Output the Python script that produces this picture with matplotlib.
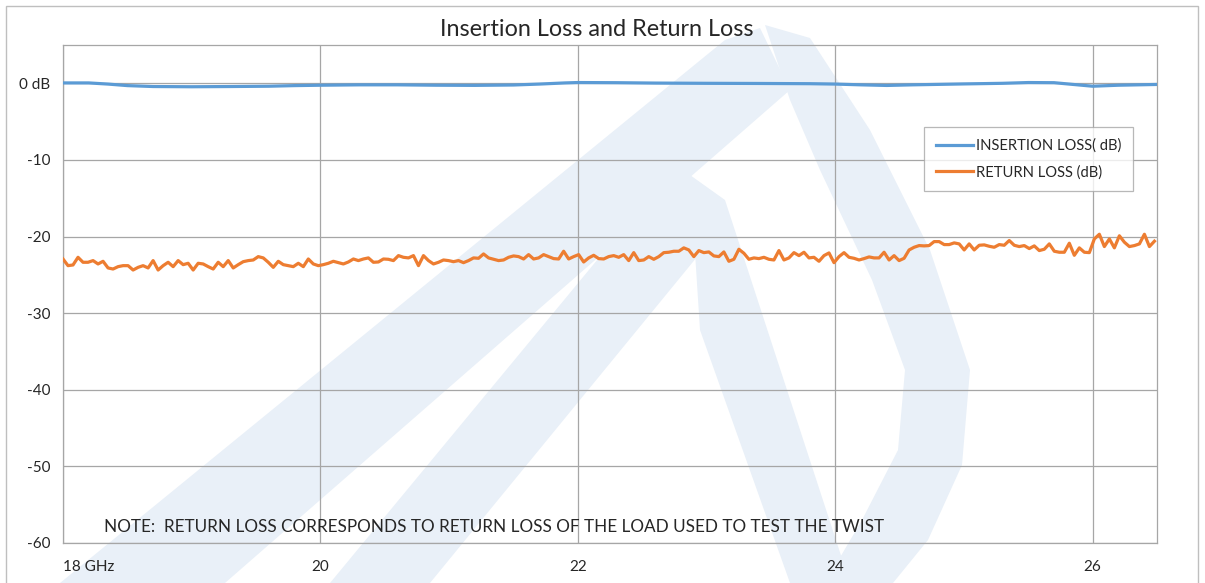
import numpy as np
import matplotlib
matplotlib.use("Agg")
import matplotlib.pyplot as plt
from matplotlib.patches import Polygon, Rectangle

plt.rcParams["font.family"] = ["Lato", "DejaVu Sans"]

# insertion loss (GHz, dB)
il_freq = [18.0, 18.2, 18.35, 18.5, 18.7, 19.0, 19.3, 19.6, 19.8, 20.0, 20.3, 20.6,
           20.9, 21.2, 21.5, 21.7, 21.9, 22.0, 22.3, 22.6, 23.0, 23.4, 23.8, 24.0,
           24.2, 24.4, 24.6, 25.0, 25.3, 25.5, 25.7, 25.85, 26.0, 26.2, 26.35, 26.5]
il_db = [0.05, 0.05, -0.1, -0.3, -0.42, -0.45, -0.42, -0.38, -0.3, -0.25, -0.2, -0.2,
         -0.25, -0.27, -0.22, -0.1, 0.05, 0.1, 0.08, 0.03, 0.0, -0.02, -0.05, -0.1,
         -0.2, -0.28, -0.2, -0.08, 0.0, 0.1, 0.08, -0.15, -0.38, -0.25, -0.2, -0.15]

# return loss (dB), evenly spaced 18 .. 26.48 GHz
rl_db = [
    -22.93, -23.80, -23.71, -22.71, -23.36, -23.36, -23.14, -23.58, -23.23, -24.10,
    -24.24, -23.93, -23.80, -23.80, -24.37, -24.02, -23.80, -24.10, -23.14, -24.37,
    -23.80, -23.36, -23.93, -23.14, -23.67, -23.49, -24.37, -23.49, -23.58, -23.93,
    -24.24, -23.36, -23.93, -23.14, -24.10, -23.67, -23.28, -23.14, -23.06, -22.62,
    -22.79, -23.36, -24.02, -23.23, -23.67, -23.80, -23.93, -23.49, -23.93, -22.93,
    -23.58, -23.80, -23.67, -23.49, -23.23, -23.41, -23.58, -23.32, -22.93, -23.14,
    -22.93, -22.79, -23.36, -23.32, -22.93, -22.97, -23.14, -22.49, -22.71, -22.79,
    -22.49, -23.80, -22.49, -23.14,
    -23.58, -23.36, -23.06, -23.14, -23.28, -23.14, -23.41, -23.14, -22.79, -22.84,
    -22.27, -22.79, -22.97, -23.14, -23.06, -22.71, -22.53, -22.62, -22.93, -22.36,
    -22.93, -22.79, -22.36, -22.62, -22.88, -22.93, -21.92, -22.93, -22.62, -22.36,
    -23.32, -22.79, -22.45, -22.88, -22.93, -22.62, -22.49, -22.71, -22.36, -23.14,
    -22.10, -23.14, -23.06, -22.62, -22.97, -22.62, -22.10, -22.05, -21.92, -21.92,
    -21.48, -21.75, -22.62, -21.83, -22.10, -22.01, -22.53, -22.62, -22.01, -23.23,
    -22.97, -21.66, -22.18, -22.97, -22.79, -22.88, -22.71, -22.97, -23.06, -21.83,
    -23.06, -22.79, -22.10,
    -22.49, -22.05, -22.79, -22.71, -23.23, -22.49, -22.14, -23.41, -22.62, -22.10,
    -22.71, -22.84, -23.06, -22.88, -22.66, -22.79, -22.79, -22.05, -23.06, -22.49,
    -23.14, -22.84, -21.75, -21.40, -21.18, -21.22, -21.18, -20.66, -20.66, -21.05,
    -21.05, -20.83, -20.96, -21.75, -20.96, -21.75, -21.14, -21.09, -21.27, -21.40,
    -21.05, -21.14, -20.52, -21.14, -21.31, -21.18, -21.57, -21.22, -21.83, -21.66,
    -20.96, -21.92, -22.05, -22.05, -20.87, -22.45, -21.48, -22.05, -22.10, -20.31,
    -19.70, -21.31, -20.31, -21.48, -19.90, -20.74, -21.31, -21.18, -20.96, -19.70,
    -21.31, -20.61,
]
rl_freq = np.linspace(18.0, 26.48, len(rl_db))

x_ticks = [18, 20, 22, 24, 26]
x_labels = ["18 GHz", "20", "22", "24", "26"]
y_ticks = [0, -10, -20, -30, -40, -50, -60]
y_labels = ["0 dB", "-10", "-20", "-30", "-40", "-50", "-60"]

W, H = 1205, 583
fig = plt.figure(figsize=(W / 100, H / 100), dpi=100)


def px(pts):
    return [(x / W, 1 - y / H) for x, y in pts]


# faint logo watermark behind the chart
wm = "#e9f0f8"
shapes = [
    [(60, 583), (225, 583), (790, 90), (760, 28), (725, 40)],
    [(765, 25), (810, 38), (870, 130), (930, 250), (970, 370), (962, 465), (928, 540),
     (893, 583), (825, 583), (862, 520), (898, 450), (905, 370), (872, 280), (820, 170),
     (790, 100)],
    [(330, 583), (430, 583), (715, 235), (690, 175), (655, 190)],
    [(690, 175), (725, 200), (850, 583), (790, 583), (700, 330)],
]
for s in shapes:
    fig.patches.append(Polygon(px(s), closed=True, transform=fig.transFigure,
                               facecolor=wm, edgecolor="none", zorder=0))

# chart border
fig.patches.append(Rectangle((6 / W, -0.05), (1198 - 6) / W, 1 - 6 / H + 0.05,
                             transform=fig.transFigure, facecolor="none",
                             edgecolor="#bfbfbf", lw=1.0, zorder=1))

ax = fig.add_axes([63 / W, 1 - 543 / H, (1157 - 63) / W, (543 - 45) / H])
ax.set_facecolor("none")
ax.set_zorder(2)

ax.plot(il_freq, il_db, color="#5b9bd5", lw=2.3, label="INSERTION LOSS( dB)", zorder=3)
ax.plot(rl_freq, rl_db, color="#ed7d31", lw=2.3, label="RETURN LOSS (dB)", zorder=3)

ax.set_xlim(18, 26.5)
ax.set_ylim(-60, 5)
ax.set_xticks(x_ticks)
ax.set_xticklabels(x_labels)
ax.set_yticks(y_ticks)
ax.set_yticklabels(y_labels)
ax.get_xticklabels()[0].set_ha("left")
ax.grid(True, color="#a6a6a6", lw=0.9)
ax.tick_params(length=0, labelsize=11, colors="#262626")
ax.tick_params(axis="x", pad=12)
ax.tick_params(axis="y", pad=9)
for sp in ax.spines.values():
    sp.set_color("#a6a6a6")
    sp.set_linewidth(0.9)

ax.text(18.32, -58.5, "NOTE:  RETURN LOSS CORRESPONDS TO RETURN LOSS OF THE LOAD USED TO TEST THE TWIST",
        fontsize=12.3, color="#262626", ha="left", va="baseline", zorder=4)

leg = ax.legend(loc="upper left", bbox_to_anchor=(924 / W, 1 - 127 / H),
                bbox_transform=fig.transFigure, fontsize=10.6, frameon=True,
                fancybox=False, edgecolor="#a6a6a6", handlelength=2.5,
                handletextpad=0.2, borderpad=0.8, labelspacing=0.8, borderaxespad=0)
leg.get_frame().set_linewidth(0.9)
for t in leg.get_texts():
    t.set_color("#262626")

fig.text(597 / W, 1 - 30 / H, "Insertion Loss and Return Loss", fontsize=16.8,
         color="#262626", ha="center", va="center")

fig.savefig("out.png", dpi=100)
